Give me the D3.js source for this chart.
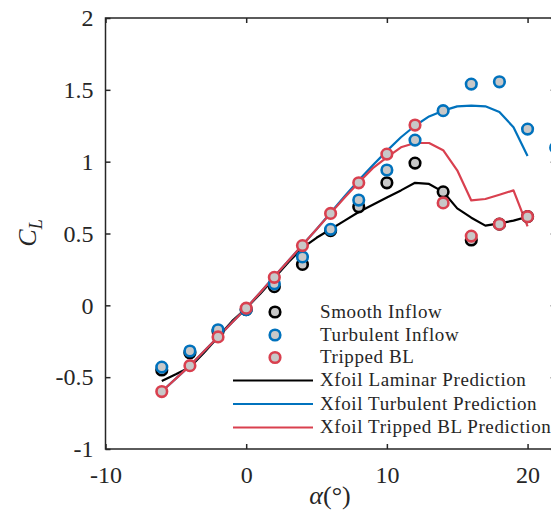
<!DOCTYPE html>
<html>
<head>
<meta charset="utf-8">
<script src="https://cdn.jsdelivr.net/npm/d3@7"></script>
<style>
  body { margin: 0; background: #fff; }
  svg { display: block; }
  text { font-family: "Liberation Serif", "DejaVu Serif", serif; fill: #262626; }
</style>
</head>
<body>
<script>
// measured alpha (deg) and lift coefficient
var alphaExp = [-6, -4, -2, 0, 2, 4, 6, 8, 10, 12, 14, 16, 18, 20];
var smoothCL = [-0.45, -0.33, -0.18, -0.03, 0.13, 0.285, 0.52, 0.686, 0.853, 0.99, 0.79, 0.455, 0.565, 0.617];
var alphaTurb = [-6, -4, -2, 0, 2, 4, 6, 8, 10, 12, 14, 16, 18, 20, 22];
var turbCL = [-0.43, -0.318, -0.17, -0.03, 0.15, 0.337, 0.529, 0.733, 0.942, 1.15, 1.355, 1.54, 1.556, 1.227, 1.097];
var trippedCL = [-0.60, -0.42, -0.22, -0.02, 0.195, 0.416, 0.64, 0.853, 1.053, 1.255, 0.713, 0.482, 0.565, 0.617];

// xfoil predictions, 1 deg steps
var alphaXfoil = [-6, -5, -4, -3, -2, -1, 0, 1, 2, 3, 4, 5, 6, 7, 8, 9, 10, 11, 12, 13, 14, 15, 16, 17, 18, 19, 20];
var xfoilLam = [-0.527, -0.48, -0.43, -0.33, -0.22, -0.11, -0.02, 0.08, 0.19, 0.30, 0.40, 0.47, 0.53, 0.59, 0.65, 0.70, 0.75, 0.80, 0.853, 0.845, 0.79, 0.675, 0.61, 0.555, 0.57, 0.59, 0.617];
var xfoilTurb = [-0.60, -0.51, -0.42, -0.32, -0.22, -0.12, -0.02, 0.09, 0.20, 0.31, 0.42, 0.53, 0.645, 0.76, 0.87, 0.975, 1.075, 1.17, 1.25, 1.315, 1.355, 1.385, 1.39, 1.385, 1.345, 1.24, 1.04];
var xfoilTrip = [-0.60, -0.51, -0.42, -0.32, -0.22, -0.12, -0.02, 0.09, 0.20, 0.31, 0.42, 0.53, 0.64, 0.75, 0.855, 0.955, 1.03, 1.10, 1.13, 1.13, 1.08, 0.94, 0.73, 0.74, 0.77, 0.80, 0.55];

var xTicks = [-10, 0, 10, 20];
var yTicks = [-1, -0.5, 0, 0.5, 1, 1.5, 2];

var black = '#000000', blue = '#0072bd', red = '#d9404f', grey = '#c8c8c8';

var W = 551, H = 512;
var svg = d3.select('body').append('svg')
  .attr('width', W)
  .attr('height', H);

var x = d3.scaleLinear().domain([-10, 22]).range([105.5, 555.7]);
var y = d3.scaleLinear().domain([-1, 2]).range([449, 18]);

// plain hyphen for negatives, like the original
var fmt = function(d){ return String(d); };

// axes box
var axCol = '#262626';
svg.append('rect')
  .attr('x', x(-10)).attr('y', y(2))
  .attr('width', x(22) - x(-10)).attr('height', y(-1) - y(2))
  .attr('fill', 'none').attr('stroke', axCol).attr('stroke-width', 1.5);

var gx = svg.append('g').attr('transform', 'translate(0,' + y(-1) + ')')
  .call(d3.axisBottom(x).tickValues(xTicks).tickSizeInner(-5).tickSizeOuter(0).tickPadding(17).tickFormat(fmt));
var gxTop = svg.append('g').attr('transform', 'translate(0,' + y(2) + ')')
  .call(d3.axisTop(x).tickValues(xTicks).tickSizeInner(-5).tickSizeOuter(0).tickFormat(''));
var gy = svg.append('g').attr('transform', 'translate(' + x(-10) + ',0)')
  .call(d3.axisLeft(y).tickValues(yTicks).tickSizeInner(-5).tickSizeOuter(0).tickPadding(12).tickFormat(fmt));
var gyR = svg.append('g').attr('transform', 'translate(' + x(22) + ',0)')
  .call(d3.axisRight(y).tickValues(yTicks).tickSizeInner(-5).tickSizeOuter(0).tickFormat(''));

[gx, gxTop, gy, gyR].forEach(function(g){
  g.select('.domain').remove();
  g.selectAll('line').attr('stroke', axCol).attr('stroke-width', 1.5);
  g.selectAll('text').attr('font-size', 24).attr('fill', axCol)
    .style('font-family', '"Liberation Serif", serif');
});

// axis labels
svg.append('text')
  .attr('x', 330).attr('y', 504)
  .attr('text-anchor', 'middle').attr('font-size', 26)
  .html('<tspan font-style="italic">α</tspan>(°)');

svg.append('text')
  .attr('transform', 'translate(36,' + 233 + ') rotate(-90)')
  .attr('text-anchor', 'middle').attr('font-size', 26)
  .html('<tspan font-style="italic">C</tspan><tspan font-style="italic" font-size="18" dy="6">L</tspan>');

// xfoil lines
var line = d3.line()
  .x(function(d){ return x(d[0]); })
  .y(function(d){ return y(d[1]); });

var lines = [
  {vals: xfoilLam, color: black},
  {vals: xfoilTurb, color: blue},
  {vals: xfoilTrip, color: red}
];
lines.forEach(function(s){
  svg.append('path')
    .datum(alphaXfoil.map(function(a, i){ return [a, s.vals[i]]; }))
    .attr('d', line)
    .attr('fill', 'none')
    .attr('stroke', s.color)
    .attr('stroke-width', 2.2)
    .attr('stroke-linejoin', 'round');
});

// experimental points
var sets = [
  {a: alphaExp, vals: smoothCL, color: black},
  {a: alphaTurb, vals: turbCL, color: blue},
  {a: alphaExp, vals: trippedCL, color: red}
];
sets.forEach(function(s){
  svg.append('g').selectAll('circle')
    .data(s.a.map(function(a, i){ return [a, s.vals[i]]; }))
    .enter().append('circle')
    .attr('cx', function(d){ return x(d[0]); })
    .attr('cy', function(d){ return y(d[1]); })
    .attr('r', 5.3)
    .attr('fill', grey)
    .attr('stroke', s.color)
    .attr('stroke-width', 2.6);
});

// legend
var legendItems = [
  {label: 'Smooth Inflow', color: black, kind: 'marker'},
  {label: 'Turbulent Inflow', color: blue, kind: 'marker'},
  {label: 'Tripped BL', color: red, kind: 'marker'},
  {label: 'Xfoil Laminar Prediction', color: black, kind: 'line'},
  {label: 'Xfoil Turbulent Prediction', color: blue, kind: 'line'},
  {label: 'Xfoil Tripped BL Prediction', color: red, kind: 'line'}
];
var legY = [312, 335, 357.5, 380.5, 404, 427.5];
var leg = svg.append('g');
legendItems.forEach(function(d, i){
  var row = leg.append('g').attr('transform', 'translate(0,' + legY[i] + ')');
  if (d.kind === 'marker') {
    row.append('circle')
      .attr('cx', 275).attr('cy', 0).attr('r', 5.3)
      .attr('fill', grey).attr('stroke', d.color).attr('stroke-width', 2.6);
  } else {
    row.append('line')
      .attr('x1', 233).attr('x2', 313).attr('y1', 0).attr('y2', 0)
      .attr('stroke', d.color).attr('stroke-width', 2.2);
  }
  row.append('text')
    .attr('x', 320).attr('y', 5.5)
    .attr('font-size', 19)
    .attr('letter-spacing', 0.6)
    .text(d.label);
});
</script>
</body>
</html>
